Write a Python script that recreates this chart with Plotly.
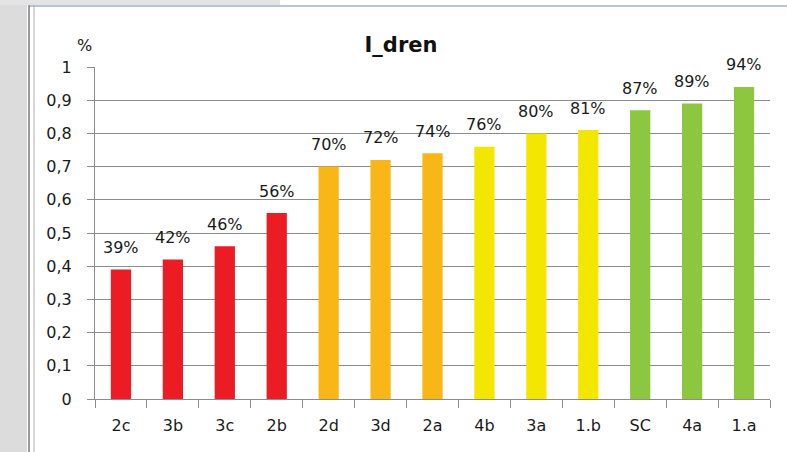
import plotly.graph_objects as go

categories = ["2c", "3b", "3c", "2b", "2d", "3d", "2a", "4b", "3a", "1.b", "SC", "4a", "1.a"]
values = [0.39, 0.42, 0.46, 0.56, 0.70, 0.72, 0.74, 0.76, 0.80, 0.81, 0.87, 0.89, 0.94]
bar_colors = ["#ec1c24", "#ec1c24", "#ec1c24", "#ec1c24",
              "#f8b617", "#f8b617", "#f8b617",
              "#f3e600", "#f3e600", "#f3e600",
              "#8dc63f", "#8dc63f", "#8dc63f"]
y_ticks = [0, 0.1, 0.2, 0.3, 0.4, 0.5, 0.6, 0.7, 0.8, 0.9, 1]

W, H = 787, 452
L, R, T, B = 95, 17, 67, 53
pw, ph = W - L - R, H - T - B

def px_x(p):
    return (p - L) / pw

def px_y(q):
    return (H - B - q) / ph

fig = go.Figure()
fig.add_trace(go.Bar(
    x=categories, y=values,
    marker=dict(color=bar_colors, line=dict(width=0)),
    hoverinfo="x+y",
))

label_font = dict(family="DejaVu Sans", size=16, color="#1a1a1a")
for c, v in zip(categories, values):
    fig.add_annotation(x=c, y=v, text=f"{round(v*100)}%", showarrow=False,
                       xanchor="center", yanchor="middle", yshift=22, font=label_font)

fig.add_annotation(xref="paper", yref="paper", x=px_x(84), y=px_y(45),
                   xanchor="center", yanchor="middle",
                   text="%", showarrow=False, font=dict(family="DejaVu Sans", size=16, color="#1a1a1a"))

shapes = [
    # left gray strip
    dict(type="rect", xref="paper", yref="paper", x0=px_x(0), x1=px_x(27), y0=px_y(452), y1=px_y(0),
         fillcolor="#dcdcdc", line=dict(width=0), layer="below"),
    # top gray strip
    dict(type="rect", xref="paper", yref="paper", x0=px_x(0), x1=px_x(280), y0=px_y(5), y1=px_y(0),
         fillcolor="#e4e4e4", line=dict(width=0), layer="below"),
    # top blue-gray line
    dict(type="line", xref="paper", yref="paper", x0=px_x(28), x1=px_x(787), y0=px_y(6), y1=px_y(6),
         line=dict(color="#b8c4d4", width=2), layer="below"),
    # double vertical frame lines
    dict(type="line", xref="paper", yref="paper", x0=px_x(29), x1=px_x(29), y0=px_y(452), y1=px_y(5),
         line=dict(color="#9a9a9a", width=2), layer="below"),
    dict(type="line", xref="paper", yref="paper", x0=px_x(34), x1=px_x(34), y0=px_y(452), y1=px_y(5),
         line=dict(color="#b0b0b0", width=1), layer="below"),
]

fig.update_layout(
    width=W, height=H,
    margin=dict(l=L, r=R, t=T, b=B, pad=0),
    paper_bgcolor="white", plot_bgcolor="white",
    separators=", ",
    showlegend=False,
    bargap=0.61,
    shapes=shapes,
    title=dict(text="<b>I_dren</b>", x=px_x(401), xref="paper", xanchor="center",
               y=1 - 45 / H, yref="container", yanchor="middle",
               font=dict(family="DejaVu Sans", size=21, color="#111111")),
    font=dict(family="DejaVu Sans", size=16, color="#1a1a1a"),
)

fig.update_xaxes(
    type="category",
    showline=True, linecolor="#8c8c8c", linewidth=1,
    ticks="outside", tickson="boundaries", ticklen=8, tickcolor="#8c8c8c", tickwidth=1,
    showgrid=False,
    tickfont=dict(family="DejaVu Sans", size=16, color="#1a1a1a"),
    ticklabelstandoff=12,
)
fig.update_yaxes(
    range=[0, 1],
    tickvals=y_ticks,
    showline=True, linecolor="#8c8c8c", linewidth=1,
    ticks="outside", ticklen=7, tickcolor="#8c8c8c", tickwidth=1,
    showgrid=True, gridcolor="#8c8c8c", gridwidth=1,
    zeroline=False,
    tickfont=dict(family="DejaVu Sans", size=16, color="#1a1a1a"),
    ticklabelstandoff=12,
)

fig.write_html("out.html", config={"displayModeBar": False},
               post_script="document.body.style.margin='0';document.body.style.padding='0';")
